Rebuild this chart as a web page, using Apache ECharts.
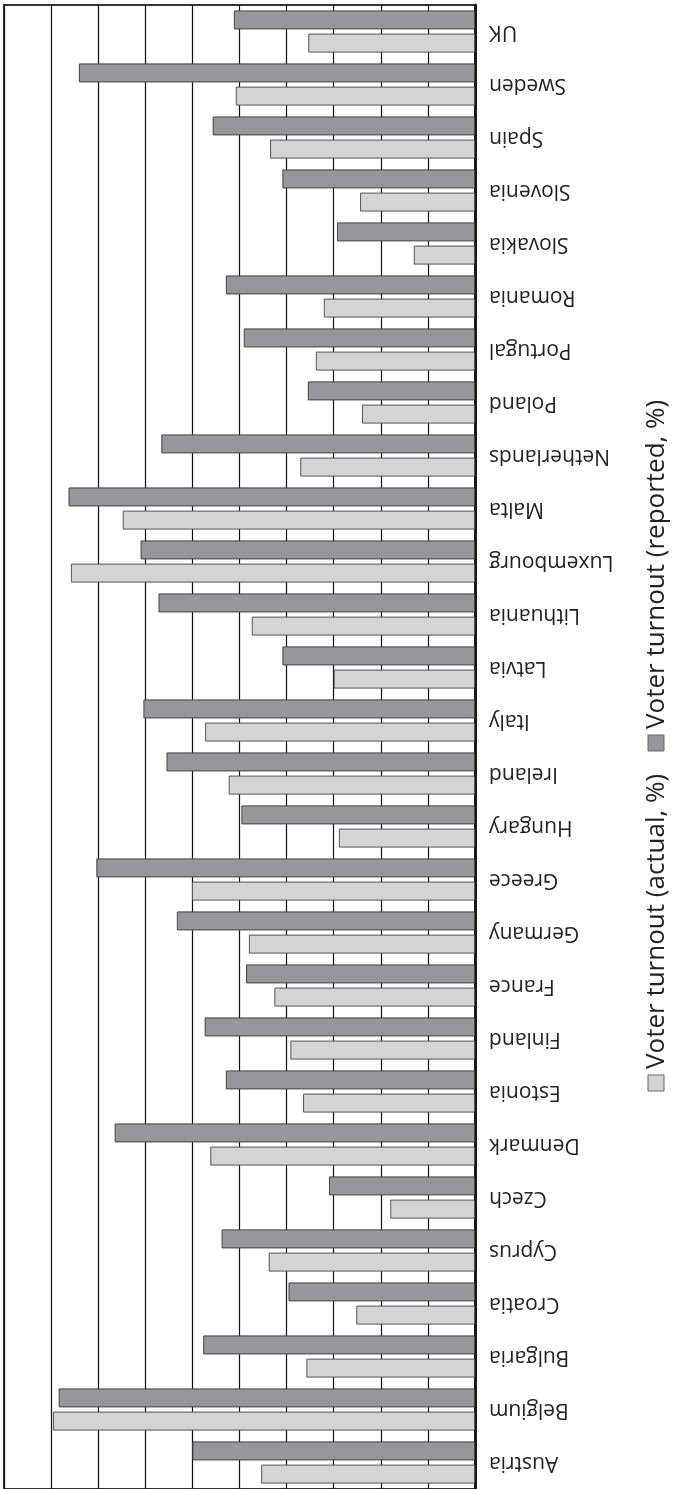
<!DOCTYPE html>
<html>
<head>
<meta charset="utf-8">
<script src="https://cdn.jsdelivr.net/npm/echarts@6/dist/echarts.min.js"></script>
<style>
  html, body { margin: 0; padding: 0; background: #ffffff; }
  #chart { width: 673px; height: 1489px; }
</style>
</head>
<body>
<div id="chart"></div>
<script>
const countries = ['Austria','Belgium','Bulgaria','Croatia','Cyprus','Czech','Denmark','Estonia','Finland','France','Germany','Greece','Hungary','Ireland','Italy','Latvia','Lithuania','Luxembourg','Malta','Netherlands','Poland','Portugal','Romania','Slovakia','Slovenia','Spain','Sweden','UK'];
const actualTurnout = [45.4, 89.6, 35.8, 25.2, 43.8, 18.0, 56.2, 36.5, 39.2, 42.6, 48.0, 60.1, 28.9, 52.3, 57.3, 30.0, 47.4, 85.8, 74.8, 37.1, 24.0, 33.8, 32.1, 13.0, 24.4, 43.5, 50.8, 35.4];
const reportedTurnout = [60.0, 88.4, 57.7, 39.6, 53.8, 31.0, 76.5, 52.9, 57.4, 48.6, 63.3, 80.4, 49.6, 65.5, 70.4, 40.9, 67.2, 71.0, 86.3, 66.6, 35.5, 49.1, 52.9, 29.3, 40.9, 55.7, 84.1, 51.2];
const legendNames = ['Voter turnout (actual, %)', 'Voter turnout (reported, %)'];
const colors = ['#d3d4d6', '#96979b'];

const chart = echarts.init(document.getElementById('chart'));
const font = '"Open Sans", "Noto Sans", sans-serif';

function legendItem(idx, x, y) {
  return {
    type: 'group',
    x: x, y: y,
    rotation: Math.PI / 2,
    children: [
      { type: 'rect', shape: { x: 0, y: -8, width: 16, height: 16 },
        style: { fill: colors[idx], stroke: '#666', lineWidth: 1 } },
      { type: 'text', x: 22, y: 1,
        style: { text: legendNames[idx], fill: '#222', font: '26px ' + font,
                 textAlign: 'left', textVerticalAlign: 'middle' } }
    ]
  };
}

chart.setOption({
  animation: false,
  backgroundColor: '#ffffff',
  grid: { left: 4, right: 198, top: 5, height: 1487, show: true, borderColor: '#333', borderWidth: 2 },
  xAxis: {
    type: 'value', inverse: true, min: 0, max: 100, interval: 10,
    axisLabel: { show: false }, axisTick: { show: false }, axisLine: { show: false },
    splitLine: { show: true, lineStyle: { color: '#111', width: 1.2 } }
  },
  yAxis: {
    type: 'category', data: countries, position: 'right',
    axisLine: { show: true, lineStyle: { color: '#1a1a1a', width: 3 } },
    axisTick: { show: false },
    axisLabel: { rotate: 180, margin: 14, fontSize: 21, color: '#222', fontFamily: font }
  },
  series: [
    { name: legendNames[1], type: 'bar', data: reportedTurnout, barWidth: 19, barGap: '22%',
      itemStyle: { color: colors[1], borderColor: '#444', borderWidth: 1 } },
    { name: legendNames[0], type: 'bar', data: actualTurnout, barWidth: 19, barGap: '22%',
      itemStyle: { color: colors[0], borderColor: '#555', borderWidth: 1 } }
  ],
  graphic: [ legendItem(0, 656, 1091), legendItem(1, 656, 751) ]
});
</script>
</body>
</html>
